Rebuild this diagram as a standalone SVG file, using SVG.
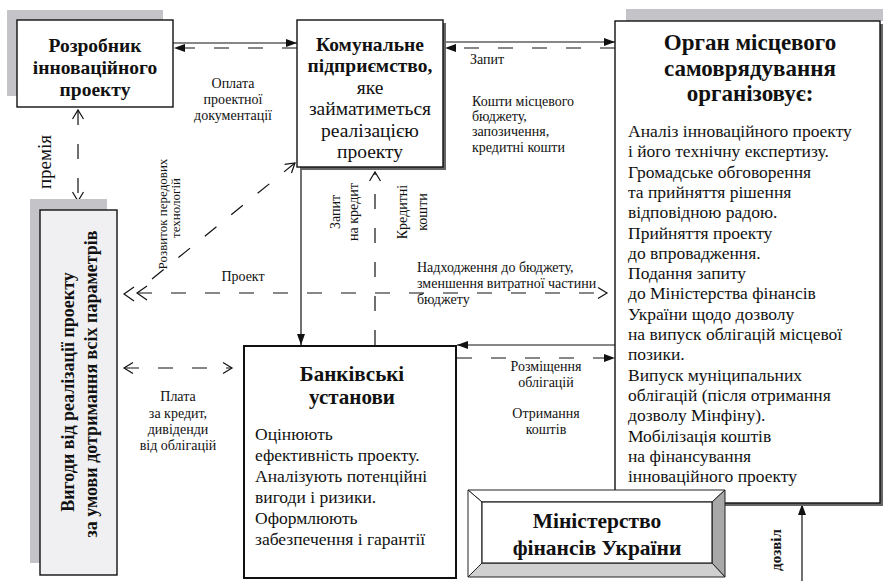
<svg xmlns="http://www.w3.org/2000/svg" width="883" height="581" viewBox="0 0 883 581">
<style>
text{font-family:'Liberation Serif',serif;fill:#111}
.b{font-weight:bold}
.t{font-size:19.5px}
.t3{font-size:23px}
.body{font-size:17.5px}
.s{font-size:14px}
.box{fill:#fff;stroke:#111;stroke-width:1.4}
.ln{fill:none;stroke:#111;stroke-width:1.2}
.d{stroke-dasharray:15 19}
.lsh{fill:#c4c4c8}
.dsh{fill:#666}
</style>
<defs>
<marker id="fa" markerUnits="userSpaceOnUse" markerWidth="12" markerHeight="10" refX="11" refY="4" orient="auto-start-reverse"><path d="M0,0 L11,4 L0,8 z" fill="#111"/></marker>
<marker id="oa" markerUnits="userSpaceOnUse" markerWidth="12" markerHeight="14" refX="10" refY="6" orient="auto-start-reverse"><path d="M1,0.5 L10,6 L1,11.5" fill="none" stroke="#111" stroke-width="1.2"/></marker>
</defs>
<rect width="883" height="581" fill="#fff"/>

<g id="connectors">
<line class="ln" x1="173" y1="43" x2="297" y2="43" marker-end="url(#fa)"/>
<line class="ln d" x1="297" y1="48" x2="174" y2="48" marker-end="url(#fa)"/>
<line class="ln" x1="443" y1="42" x2="615" y2="42" marker-end="url(#fa)"/>
<line class="ln d" x1="615" y1="48" x2="445" y2="48" marker-end="url(#fa)"/>
<line class="ln d" x1="78" y1="110" x2="78" y2="201" marker-start="url(#oa)" marker-end="url(#oa)"/>
<line class="ln d" x1="152" y1="279" x2="295" y2="163" marker-end="url(#oa)"/>
<line class="ln d" x1="137" y1="293" x2="607" y2="293" marker-end="url(#oa)"/>
<polyline class="ln" points="134,287 124,294 134,301"/>
<polyline class="ln" points="147,286 137,293 147,300"/>
<line class="ln" x1="301" y1="167" x2="301" y2="345" marker-end="url(#fa)"/>
<line class="ln d" x1="375" y1="345" x2="375" y2="172" marker-end="url(#oa)"/>
<line class="ln" x1="615" y1="345" x2="457" y2="345" marker-end="url(#fa)"/>
<line class="ln d" x1="457" y1="358" x2="615" y2="358" marker-end="url(#fa)"/>
<line class="ln d" x1="124" y1="368" x2="232" y2="368" marker-start="url(#oa)" marker-end="url(#oa)"/>
<line class="ln" x1="802" y1="581" x2="802" y2="504" marker-end="url(#fa)"/>

<text class="s" text-anchor="middle"><tspan x="233" y="88">Оплата</tspan><tspan x="233" y="104">проектної</tspan><tspan x="233" y="120">документації</tspan></text>
<text class="s" x="470" y="64">Запит</text>
<text class="s"><tspan x="472" y="106">Кошти місцевого</tspan><tspan x="472" y="121">бюджету,</tspan><tspan x="472" y="136">запозичення,</tspan><tspan x="472" y="152">кредитні кошти</tspan></text>
<text transform="translate(51,162) rotate(-90)" text-anchor="middle" font-size="19">премія</text>
<text font-size="13" transform="translate(167,214) rotate(-90)" text-anchor="middle">Розвиток  передових</text>
<text font-size="13" transform="translate(180,208) rotate(-90)" text-anchor="middle">технологій</text>
<text class="s" x="243" y="281" text-anchor="middle">Проект</text>
<text class="s" transform="translate(340,212) rotate(-90)" text-anchor="middle">Запит</text>
<text class="s" transform="translate(358,212) rotate(-90)" text-anchor="middle">на кредит</text>
<text class="s" transform="translate(407,212) rotate(-90)" text-anchor="middle">Кредитні</text>
<text class="s" transform="translate(427,212) rotate(-90)" text-anchor="middle">кошти</text>
<text class="s"><tspan x="417" y="272">Надходження до бюджету,</tspan><tspan x="417" y="288">зменшення витратної частини</tspan><tspan x="417" y="304">бюджету</tspan></text>
<text class="s" text-anchor="middle"><tspan x="178" y="401">Плата</tspan><tspan x="178" y="418">за кредит,</tspan><tspan x="178" y="434">дивіденди</tspan><tspan x="178" y="450">від облігацій</tspan></text>
<text class="s" text-anchor="middle"><tspan x="546" y="371">Розміщення</tspan><tspan x="546" y="387">облігацій</tspan><tspan x="546" y="418">Отримання</tspan><tspan x="546" y="434">коштів</tspan></text>
<text class="b" font-size="15" transform="translate(781,550) rotate(-90)" text-anchor="middle">дозвіл</text>
</g>

<g id="n1">
<rect class="lsh" x="7" y="10" width="156" height="86"/>
<rect class="box" x="17" y="20" width="156" height="87"/>
<text class="t b" text-anchor="middle"><tspan x="95" y="52">Розробник</tspan><tspan x="95" y="74">інноваційного</tspan><tspan x="95" y="96">проекту</tspan></text>
</g>

<g id="n2">
<rect class="dsh" x="300" y="23" width="146" height="147"/>
<rect class="box" x="297" y="20" width="146" height="147"/>
<text class="t" text-anchor="middle"><tspan class="b" x="370" y="51">Комунальне</tspan><tspan class="b" x="370" y="72">підприємство,</tspan><tspan x="370" y="94">яке</tspan><tspan x="370" y="115">займатиметься</tspan><tspan x="370" y="137">реалізацією</tspan><tspan x="370" y="158">проекту</tspan></text>
</g>

<g id="n3">
<rect class="lsh" x="626" y="9" width="257" height="12"/>
<rect class="dsh" x="618" y="24" width="266" height="482"/>
<rect class="box" x="615" y="21" width="265" height="482"/>
<text class="t3 b" text-anchor="middle"><tspan x="750" y="50">Орган місцевого</tspan><tspan x="750" y="75.5">самоврядування</tspan><tspan x="750" y="101">організовує:</tspan></text>
<text class="body"><tspan x="628" y="137">Аналіз інноваційного проекту</tspan><tspan x="628" dy="20.3">і його технічну експертизу.</tspan><tspan x="628" dy="20.3">Громадське обговорення</tspan><tspan x="628" dy="20.3">та прийняття рішення</tspan><tspan x="628" dy="20.3">відповідною радою.</tspan><tspan x="628" dy="20.3">Прийняття проекту</tspan><tspan x="628" dy="20.3">до впровадження.</tspan><tspan x="628" dy="20.3">Подання запиту</tspan><tspan x="628" dy="20.3">до Міністерства фінансів</tspan><tspan x="628" dy="20.3">України щодо дозволу</tspan><tspan x="628" dy="20.3">на випуск облігацій місцевої</tspan><tspan x="628" dy="20.3">позики.</tspan><tspan x="628" dy="20.3">Випуск муніципальних</tspan><tspan x="628" dy="20.3">облігацій (після отримання</tspan><tspan x="628" dy="20.3">дозволу Мінфіну).</tspan><tspan x="628" dy="20.3">Мобілізація коштів</tspan><tspan x="628" dy="20.3">на фінансування</tspan><tspan x="628" dy="20.3">інноваційного проекту</tspan></text>
</g>

<g id="n4">
<rect class="lsh" x="30" y="199" width="77" height="364"/>
<rect class="box" x="40" y="210" width="77" height="365" style="fill:#f0f0f2"/>
<text class="b" font-size="18" text-anchor="middle" transform="translate(74,392) rotate(-90)">Вигоди від реалізації проекту</text>
<text class="b" font-size="18" text-anchor="middle" transform="translate(97,384) rotate(-90)">за умови дотримання всіх параметрів</text>
</g>

<g id="n5">
<rect class="box" x="244" y="346" width="212" height="232" style="stroke-width:2"/>
<text class="b" font-size="21" text-anchor="middle"><tspan x="352" y="381">Банківські</tspan><tspan x="352" y="404">установи</tspan></text>
<text class="body"><tspan x="255" y="440">Оцінюють</tspan><tspan x="255" dy="21">ефективність проекту.</tspan><tspan x="255" dy="21">Аналізують потенційні</tspan><tspan x="255" dy="21">вигоди і ризики.</tspan><tspan x="255" dy="21">Оформлюють</tspan><tspan x="255" dy="21">забезпечення і гарантії</tspan></text>
</g>

<g id="n6">
<polygon points="468,490 725,490 712,502 482,502" fill="#fff" stroke="#222" stroke-width="1"/>
<polygon points="468,490 482,502 482,563 468,577" fill="#fff" stroke="#222" stroke-width="1"/>
<polygon points="725,490 725,577 712,563 712,502" fill="#a8a8a8" stroke="#222" stroke-width="1"/>
<polygon points="468,577 725,577 712,563 482,563" fill="#d0d0d0" stroke="#222" stroke-width="1"/>
<rect x="482" y="502" width="230" height="61" fill="#fff" stroke="#222" stroke-width="1.2"/>
<text class="b" font-size="21.5" text-anchor="middle"><tspan x="597" y="528">Міністерство</tspan><tspan x="597" y="555">фінансів України</tspan></text>
</g>
</svg>
